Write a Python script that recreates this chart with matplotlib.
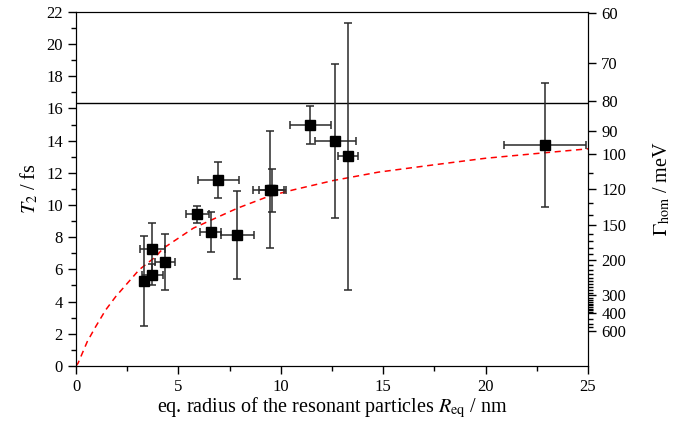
import numpy as np
import matplotlib
matplotlib.use('Agg')
import matplotlib.pyplot as plt
from matplotlib.ticker import MultipleLocator, FixedLocator, NullFormatter

plt.rcParams['font.family'] = ['Liberation Serif', 'DejaVu Serif']
plt.rcParams['mathtext.fontset'] = 'stix'

# measured points: equivalent radius (nm) and dephasing time T2 (fs)
radius = [3.33, 3.73, 3.73, 4.35, 5.93, 6.57, 6.95, 7.88, 9.45, 9.55, 11.44, 12.66, 13.27, 22.9]
t2 = [5.27, 7.25, 5.66, 6.45, 9.43, 8.31, 11.56, 8.12, 10.95, 10.92, 14.96, 14.0, 13.03, 13.7]
radius_err = [0.0, 0.6, 0.5, 0.5, 0.58, 0.52, 1.0, 0.8, 0.8, 0.62, 1.0, 1.0, 0.5, 2.0]
t2_err = [2.82, 1.65, 0.65, 1.75, 0.52, 1.25, 1.1, 2.75, 3.65, 1.33, 1.18, 4.78, 8.3, 3.85]

# red dashed model curve
curve_r = [0.0, 0.10, 0.55, 0.96, 1.45, 1.94, 2.51, 3.08, 3.89, 4.26, 5.73, 7.88,
           9.47, 10.61, 12.56, 14.76, 17.5, 19.97, 22.5, 25.0]
curve_t2 = [0.0, 0.17, 1.51, 2.44, 3.48, 4.31, 5.14, 5.97, 6.79, 7.31, 8.56, 9.80,
            10.57, 10.94, 11.52, 12.04, 12.5, 12.9, 13.2, 13.49]

# horizontal reference level
t2_level = 16.33

# right axis: homogeneous linewidth in meV (Gamma = 2*hbar/T2)
gamma_labels = [60, 70, 80, 90, 100, 120, 150, 200, 300, 400, 600]
gamma_minor = [110, 130, 140, 160, 170, 180, 190, 210, 220, 230, 240, 250, 260, 270,
               280, 290, 310, 320, 330, 340, 350, 360, 370, 380, 390, 450, 500, 550]
two_hbar = 1316.4  # meV fs


def gamma_to_t2(g):
    return two_hbar / np.asarray(g, dtype=float)


fig = plt.figure(figsize=(6.91, 4.24), dpi=100)
ax = fig.add_axes([0.110, 0.137, 0.741, 0.835])

ax.plot(curve_r, curve_t2, color='red', lw=1.1, ls=(0, (4, 3)), zorder=2)
ax.axhline(t2_level, color='black', lw=1.0, zorder=1)
ax.errorbar(radius, t2, xerr=radius_err, yerr=t2_err, fmt='s', color='black',
            ecolor='#2a2a2a', elinewidth=1.1, capsize=3, capthick=1.1,
            markersize=6.5, zorder=3)

ax.set_xlim(0, 25)
ax.set_ylim(0, 22)
ax.xaxis.set_major_locator(MultipleLocator(5))
ax.xaxis.set_minor_locator(MultipleLocator(2.5))
ax.yaxis.set_major_locator(MultipleLocator(2))
ax.yaxis.set_minor_locator(MultipleLocator(1))
ax.tick_params(which='both', direction='out', labelsize=12, width=1, top=False, right=False)
ax.tick_params(which='major', length=6)
ax.tick_params(which='minor', length=3.5)
ax.set_xlabel(r'eq. radius of the resonant particles $R_{\rm eq}$ / nm', fontsize=14.5, labelpad=0)
ax.set_ylabel(r'$T_2$ / fs', fontsize=14.5, labelpad=4)

ax2 = ax.twinx()
ax2.set_ylim(0, 22)
ax2.yaxis.set_major_locator(FixedLocator(gamma_to_t2(gamma_labels)))
ax2.yaxis.set_minor_locator(FixedLocator(gamma_to_t2(gamma_minor)))
ax2.set_yticklabels([str(g) for g in gamma_labels])
ax2.yaxis.set_minor_formatter(NullFormatter())
ax2.tick_params(which='both', direction='out', labelsize=12, width=1)
ax2.tick_params(which='major', length=6)
ax2.tick_params(which='minor', length=3.5)
ax2.set_ylabel(r'$\Gamma_{\rm hom}$ / meV', fontsize=14.5, labelpad=18)

fig.savefig('out.png', dpi=100)
